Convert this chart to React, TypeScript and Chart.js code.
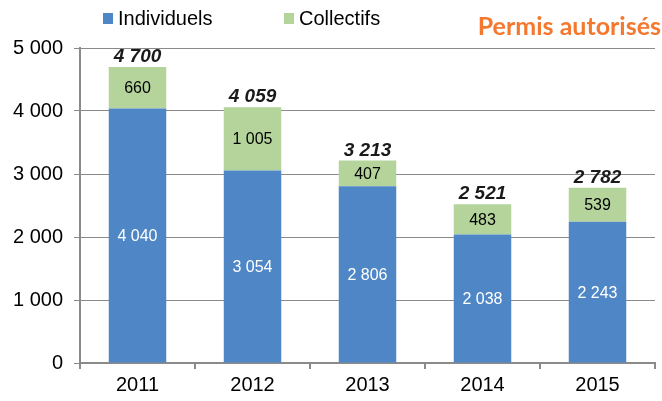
import React, { useEffect, useRef } from "react";
import { Chart, registerables } from "chart.js";

Chart.register(...registerables);

const categories = ["2011", "2012", "2013", "2014", "2015"];
const individuels = [4040, 3054, 2806, 2038, 2243];
const collectifs = [660, 1005, 407, 483, 539];
const yTicks = [0, 1000, 2000, 3000, 4000, 5000];

const BLUE = "#4F87C6";
const GREEN = "#B4D49C";
const AXIS = "#8A8A8A";
const FONT = "'Liberation Sans', Arial, sans-serif";

const fmt = (v: number) => String(Math.round(v)).replace(/\B(?=(\d{3})+(?!\d))/g, " ");

const overlay = {
  id: "overlay",
  afterDatasetsDraw(chart: any) {
    const ctx = chart.ctx;
    ctx.save();
    chart.data.datasets.forEach((ds: any, di: number) => {
      const meta = chart.getDatasetMeta(di);
      meta.data.forEach((el: any, i: number) => {
        const v = ds.data[i];
        const cy = (el.y + el.base) / 2;
        ctx.font = `16px ${FONT}`;
        ctx.textAlign = "center";
        ctx.textBaseline = "middle";
        ctx.fillStyle = di === 0 ? "#FFFFFF" : "#000000";
        ctx.fillText(fmt(v), el.x, cy + 1);
      });
    });
    const topMeta = chart.getDatasetMeta(chart.data.datasets.length - 1);
    topMeta.data.forEach((el: any, i: number) => {
      const total = individuels[i] + collectifs[i];
      ctx.font = `italic bold 19px ${FONT}`;
      ctx.textAlign = "center";
      ctx.textBaseline = "alphabetic";
      ctx.fillStyle = "#1A1A1A";
      ctx.fillText(fmt(total), el.x, el.y - 5);
    });
    ctx.restore();
  },
  afterDraw(chart: any) {
    const ctx = chart.ctx;
    ctx.save();
    const items = [
      { label: "Individuels", color: BLUE, x: 103 },
      { label: "Collectifs", color: GREEN, x: 284 },
    ];
    items.forEach((it) => {
      ctx.fillStyle = it.color;
      ctx.fillRect(it.x, 13, 10, 11);
      ctx.font = `20px ${FONT}`;
      ctx.textAlign = "left";
      ctx.textBaseline = "middle";
      ctx.fillStyle = "#000000";
      ctx.fillText(it.label, it.x + 15, 19);
    });
    ctx.font = "bold 25px Lato, 'Open Sans', sans-serif";
    ctx.fillStyle = "#F5782F";
    ctx.textAlign = "right";
    ctx.textBaseline = "middle";
    ctx.fillText("Permis autorisés", 661, 27);
    ctx.restore();
  },
};

export default function App() {
  const ref = useRef<HTMLCanvasElement | null>(null);
  useEffect(() => {
    if (!ref.current) return;
    const chart = new Chart(ref.current, {
      type: "bar",
      data: {
        labels: categories,
        datasets: [
          { label: "Individuels", data: individuels, backgroundColor: BLUE, barPercentage: 0.5, categoryPercentage: 1 },
          { label: "Collectifs", data: collectifs, backgroundColor: GREEN, barPercentage: 0.5, categoryPercentage: 1 },
        ],
      },
      options: {
        responsive: false,
        animation: false,
        layout: { padding: { top: 48, right: 7, left: 0, bottom: 0 } },
        plugins: { legend: { display: false }, title: { display: false }, tooltip: { enabled: false } },
        scales: {
          x: {
            stacked: true,
            grid: { display: true, drawOnChartArea: false, drawTicks: true, tickLength: 6, color: AXIS, lineWidth: 2, offset: true },
            border: { display: true, color: AXIS, width: 2 },
            ticks: { color: "#000", font: { family: FONT, size: 20 }, padding: 4 },
            afterFit: (s: any) => { s.height = 38; },
          },
          y: {
            stacked: true,
            min: 0,
            max: 5000,
            afterBuildTicks: (s: any) => { s.ticks = yTicks.map((v) => ({ value: v })); },
            grid: { color: AXIS, lineWidth: 1, tickLength: 6, drawTicks: true },
            border: { display: true, color: AXIS, width: 2 },
            ticks: { color: "#000", font: { family: FONT, size: 20 }, padding: 11, callback: (v: any) => fmt(Number(v)) },
            afterFit: (s: any) => { s.width = 80; },
          },
        },
      },
      plugins: [overlay],
    });
    return () => chart.destroy();
  }, []);
  return (
    <div style={{ position: "absolute", left: 0, top: 0, width: 662, height: 401, background: "#fff" }}>
      <canvas ref={ref} width={662} height={401} style={{ display: "block" }} />
    </div>
  );
}
